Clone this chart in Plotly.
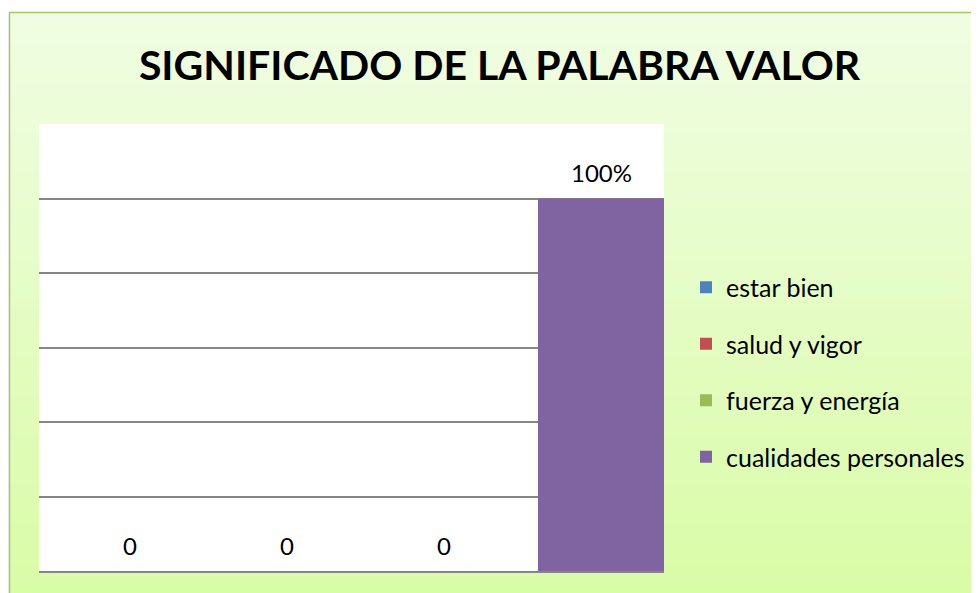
import plotly.graph_objects as go

categories = ["estar bien", "salud y vigor", "fuerza y energía", "cualidades personales"]
values = [0, 0, 0, 1.0]
value_labels = ["0", "0", "0", "100%"]
colors = ["#4F81BD", "#C0504D", "#9BBB59", "#8064A2"]
y_ticks = [0, 0.2, 0.4, 0.6, 0.8, 1.0, 1.2]

W, H = 979, 593
OFF = 8  # page body margin
L, R, T, B = 39 - OFF, 664 - OFF, 124 - OFF, 571 - OFF
pw, ph = R - L, B - T
FONT = "Lato, Carlito, sans-serif"

def px_x(p):
    return (p - OFF - L) / pw

def px_y(p):
    return (B - (p - OFF)) / ph

fig = go.Figure()
for i, (cat, v, c) in enumerate(zip(categories, values, colors)):
    fig.add_trace(go.Bar(x=[i], y=[v], name=cat, marker=dict(color=c, line=dict(width=0)),
                         width=0.803, legendgroup=cat, hoverinfo="skip"))

shapes = []
x0f, y0f = 10, 13
n = 60
top_c = (0xF0, 0xFD, 0xE2)
bot_c = (0xD9, 0xFC, 0xA6)
for k in range(n):
    t = k / (n - 1)
    col = tuple(round(top_c[j] + (bot_c[j] - top_c[j]) * t) for j in range(3))
    ya = y0f + (H + 10 - y0f) * k / n
    yb = y0f + (H + 10 - y0f) * (k + 1) / n + 1
    shapes.append(dict(type="rect", xref="paper", yref="paper", layer="below",
                       x0=px_x(x0f), x1=px_x(W + 20), y0=px_y(ya), y1=px_y(yb),
                       fillcolor="rgb(%d,%d,%d)" % col, line=dict(width=0)))
shapes.append(dict(type="rect", xref="paper", yref="paper", layer="below",
                   x0=px_x(9.5), x1=px_x(W + 20), y0=px_y(12.5), y1=px_y(H + 20),
                   fillcolor="rgba(0,0,0,0)", line=dict(color="#A5C766", width=1.5)))
shapes.append(dict(type="line", xref="paper", yref="paper", layer="below",
                   x0=px_x(8), x1=px_x(8), y0=px_y(14), y1=px_y(H + 10),
                   line=dict(color="#E4E4E4", width=1.5)))
shapes.append(dict(type="rect", xref="paper", yref="paper", layer="below",
                   x0=0, x1=1, y0=0, y1=1, fillcolor="white", line=dict(width=0)))

annotations = []
for i, (v, lab) in enumerate(zip(values, value_labels)):
    annotations.append(dict(x=i, y=v, xref="x", yref="y", text=lab, showarrow=False,
                            yshift=26, yanchor="middle",
                            font=dict(family=FONT, size=24, color="#000000")))

fig.update_layout(
    width=W, height=H,
    margin=dict(l=L, r=W - R, t=T, b=H - B, pad=0),
    paper_bgcolor="white",
    plot_bgcolor="rgba(0,0,0,0)",
    barmode="overlay",
    shapes=shapes,
    annotations=annotations,
    title=dict(text="<b>SIGNIFICADO DE LA PALABRA VALOR</b>", x=(499.5 - OFF) / W, xanchor="center",
               xref="container", y=1 - (66 - OFF) / H, yanchor="middle", yref="container",
               font=dict(family=FONT, size=41, color="#000000")),
    legend=dict(x=px_x(686), y=px_y(372), xanchor="left", yanchor="middle",
                font=dict(family=FONT, size=25, color="#000000"),
                bgcolor="rgba(0,0,0,0)", tracegroupgap=21, traceorder="grouped"),
    xaxis=dict(range=[-0.58, 3.401], showticklabels=False, showgrid=False, zeroline=False,
               showline=True, linecolor="#868686", linewidth=2, ticks=""),
    yaxis=dict(range=[0, 1.2], tickvals=y_ticks, showticklabels=False, showgrid=True,
               gridcolor="#868686", gridwidth=1.5, zeroline=False, showline=False, ticks=""),
    showlegend=True,
)

fig.write_html("out.html")
